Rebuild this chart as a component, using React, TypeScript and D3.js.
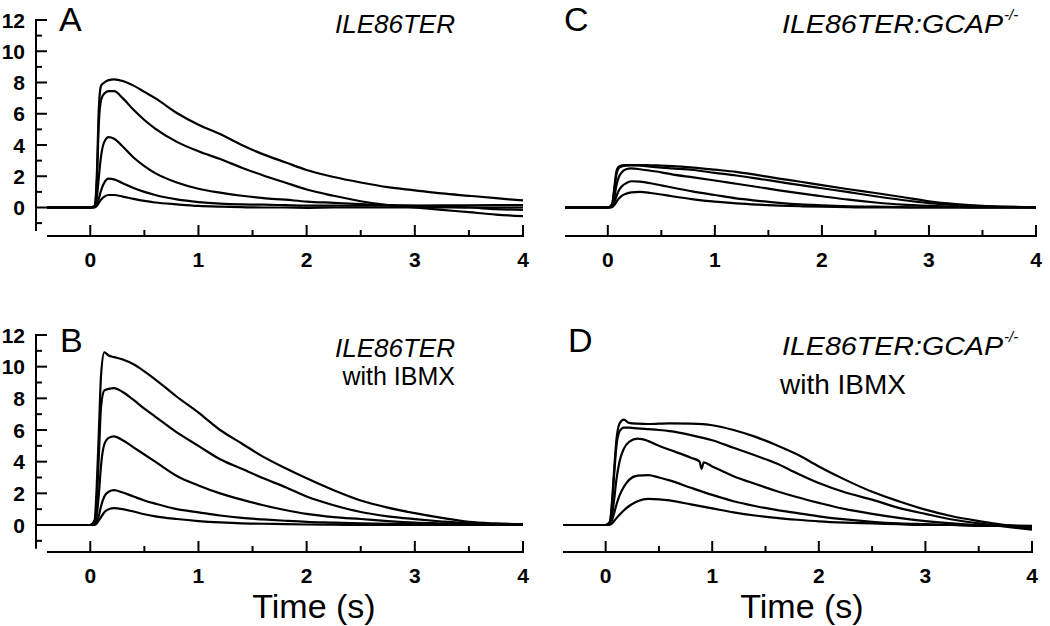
import React from "react";
import * as d3 from "d3";

// ---- data ----
const TIME = [-0.4, 0, 0.04, 0.06, 0.08, 0.1, 0.13, 0.17, 0.22, 0.3, 0.4, 0.5, 0.6, 0.8, 1.0, 1.2, 1.4, 1.6, 1.8, 2.0, 2.25, 2.5, 2.75, 3.0, 3.25, 3.5, 3.75, 4.0];

const A1 = [0, 0, 0.1, 2.0, 6.5, 7.8, 8.0, 8.15, 8.2, 8.1, 7.8, 7.4, 7.0, 6.05, 5.3, 4.7, 4.0, 3.4, 2.9, 2.4, 1.95, 1.6, 1.3, 1.1, 0.9, 0.75, 0.6, 0.45];
const A2 = [0, 0, 0.1, 1.5, 5.5, 6.9, 7.3, 7.45, 7.45, 7.0, 6.25, 5.6, 5.05, 4.2, 3.6, 3.1, 2.55, 2.05, 1.6, 1.15, 0.75, 0.4, 0.15, 0.0, -0.15, -0.3, -0.45, -0.55];
const A3 = [0, 0, 0.05, 0.6, 2.0, 3.3, 4.2, 4.5, 4.4, 3.9, 3.2, 2.65, 2.2, 1.6, 1.2, 0.95, 0.75, 0.6, 0.5, 0.38, 0.3, 0.22, 0.15, 0.1, 0.05, 0, -0.1, -0.15];
const A4 = [0, 0, 0.02, 0.2, 0.6, 1.1, 1.6, 1.85, 1.8, 1.55, 1.25, 1.0, 0.8, 0.52, 0.35, 0.25, 0.2, 0.18, 0.15, 0.12, 0.12, 0.12, 0.12, 0.12, 0.13, 0.14, 0.15, 0.15];
const A5 = [0, 0, 0.01, 0.1, 0.3, 0.5, 0.7, 0.8, 0.8, 0.7, 0.55, 0.42, 0.32, 0.2, 0.1, 0.05, 0.02, 0, 0, -0.02, 0, 0, 0, 0, 0, 0, 0, 0];

const B1 = [0, 0, 0.3, 2.5, 6.0, 9.5, 10.9, 10.7, 10.6, 10.45, 10.15, 9.7, 9.2, 8.1, 7.1, 6.0, 5.15, 4.3, 3.6, 2.95, 2.2, 1.55, 1.1, 0.75, 0.45, 0.2, 0.1, 0.05];
const B2 = [0, 0, 0.2, 1.5, 4.5, 7.5, 8.5, 8.6, 8.65, 8.4, 7.9, 7.35, 6.85, 5.85, 5.0, 4.15, 3.55, 2.95, 2.4, 1.8, 1.25, 0.82, 0.55, 0.37, 0.22, 0.1, 0.05, 0];
const B3 = [0, 0, 0.1, 0.6, 2.0, 3.8, 5.1, 5.5, 5.6, 5.35, 4.9, 4.45, 4.0, 3.1, 2.5, 2.0, 1.6, 1.25, 0.95, 0.7, 0.5, 0.38, 0.25, 0.15, 0.1, 0.05, 0, 0];
const B4 = [0, 0, 0.03, 0.2, 0.6, 1.2, 1.8, 2.1, 2.2, 2.05, 1.8, 1.55, 1.35, 1.0, 0.8, 0.6, 0.45, 0.35, 0.27, 0.2, 0.15, 0.1, 0.07, 0.05, 0.03, 0.02, 0, 0];
const B5 = [0, 0, 0.01, 0.1, 0.3, 0.5, 0.8, 1.0, 1.06, 1.0, 0.85, 0.68, 0.55, 0.38, 0.25, 0.16, 0.1, 0.08, 0.05, 0.03, 0.02, 0, 0, 0, 0, 0, 0, 0];

const C1 = [0, 0, 0.2, 1.2, 2.3, 2.6, 2.7, 2.72, 2.72, 2.72, 2.7, 2.68, 2.65, 2.55, 2.42, 2.28, 2.07, 1.85, 1.65, 1.43, 1.17, 0.93, 0.67, 0.4, 0.22, 0.1, 0.05, 0];
const C2 = [0, 0, 0.2, 1.1, 2.1, 2.5, 2.62, 2.68, 2.7, 2.68, 2.62, 2.55, 2.5, 2.4, 2.22, 2.05, 1.85, 1.64, 1.43, 1.23, 0.98, 0.72, 0.48, 0.28, 0.15, 0.08, 0.03, 0];
const C3 = [0, 0, 0.1, 0.6, 1.4, 1.9, 2.25, 2.45, 2.5, 2.45, 2.35, 2.25, 2.12, 1.93, 1.73, 1.52, 1.31, 1.1, 0.9, 0.72, 0.5, 0.32, 0.18, 0.1, 0.05, 0, 0, 0];
const C4 = [0, 0, 0.05, 0.3, 0.7, 1.05, 1.35, 1.55, 1.68, 1.65, 1.55, 1.42, 1.28, 1.02, 0.8, 0.58, 0.43, 0.3, 0.2, 0.14, 0.08, 0.05, 0.02, 0, 0, 0, 0, 0];
const C5 = [0, 0, 0.02, 0.15, 0.35, 0.55, 0.75, 0.88, 0.97, 1.0, 0.93, 0.83, 0.72, 0.52, 0.37, 0.26, 0.18, 0.12, 0.08, 0.05, 0.02, 0, 0, 0, 0, 0, 0, 0];

const D1 = [0, 0, 0.2, 1.5, 3.5, 5.3, 6.4, 6.65, 6.45, 6.4, 6.38, 6.4, 6.42, 6.4, 6.3, 6.0, 5.58, 5.05, 4.45, 3.7, 2.85, 2.1, 1.5, 0.97, 0.55, 0.25, 0.0, -0.2];
const D2 = [0, 0, 0.2, 1.3, 3.2, 4.9, 5.9, 6.15, 6.15, 6.1, 6.05, 6.0, 5.93, 5.68, 5.35, 4.88, 4.4, 3.9, 3.25, 2.65, 2.05, 1.6, 1.08, 0.7, 0.35, 0.1, -0.1, -0.3];
const D3 = [0, 0, 0.1, 0.6, 1.6, 2.8, 4.0, 4.8, 5.25, 5.45, 5.3, 5.0, 4.75, 4.25, 3.7, 3.08, 2.6, 2.15, 1.75, 1.4, 1.0, 0.7, 0.45, 0.25, 0.1, 0, -0.05, -0.1];
const D4 = [0, 0, 0.05, 0.3, 0.75, 1.25, 1.85, 2.4, 2.85, 3.12, 3.15, 3.0, 2.82, 2.35, 1.9, 1.5, 1.2, 0.95, 0.75, 0.55, 0.35, 0.2, 0.1, 0.05, 0, -0.05, -0.05, -0.1];
const D5 = [0, 0, 0.02, 0.1, 0.25, 0.42, 0.65, 0.92, 1.2, 1.5, 1.65, 1.62, 1.55, 1.3, 1.05, 0.8, 0.6, 0.45, 0.33, 0.23, 0.15, 0.1, 0.05, 0, 0, 0, -0.02, -0.05];
// small artefact (downward glitch) on trace D3
const D3_GLITCH_T = [0.88, 0.9, 0.92];
const D3_GLITCH_V = [4.02, 3.55, 3.95];

const X_TICKS = [0, 1, 2, 3, 4];
const X_MINOR = [0.5, 1.5, 2.5, 3.5];
const Y_TICKS = [0, 2, 4, 6, 8, 10, 12];
const Y_MINOR = [-1, 1, 3, 5, 7, 9, 11];

const FONT = "'Liberation Sans', Arial, Helvetica, sans-serif";

type Series = [number, number][];
const zipSeries = (t: number[], v: number[]): Series => t.map((x, i) => [x, v[i]] as [number, number]);
const withExtra = (base: Series, t: number[], v: number[]): Series =>
  [...base, ...zipSeries(t, v)].sort((a, b) => a[0] - b[0]);

interface PanelProps {
  x0: number; x1: number; yZero: number; yTop: number; axisY: number;
  yAxisX?: number; traces: Series[];
}

function Panel({ x0, x1, yZero, yTop, axisY, yAxisX, traces }: PanelProps) {
  const x = d3.scaleLinear().domain([-0.4, 4]).range([x0, x1]);
  const y = d3.scaleLinear().domain([0, 12]).range([yZero, yTop]);
  const line = d3.line<[number, number]>().x(d => x(d[0])).y(d => y(d[1])).curve(d3.curveMonotoneX);
  return (
    <g>
      {traces.map((s, i) => (
        <path key={i} d={line(s) || ""} fill="none" stroke="#000" strokeWidth={2.2} strokeLinejoin="round" />
      ))}
      {/* x axis */}
      <line x1={x(-0.4)} x2={x(4) + 1} y1={axisY} y2={axisY} stroke="#000" strokeWidth={2} />
      {X_TICKS.map(t => (
        <g key={"xt" + t}>
          <line x1={x(t)} x2={x(t)} y1={axisY} y2={axisY - 11} stroke="#000" strokeWidth={2} />
          <text x={x(t)} y={axisY + 31} textAnchor="middle" fontFamily={FONT} fontWeight="bold" fontSize={21}>{t}</text>
        </g>
      ))}
      {X_MINOR.map(t => (
        <line key={"xm" + t} x1={x(t)} x2={x(t)} y1={axisY} y2={axisY - 6} stroke="#000" strokeWidth={2} />
      ))}
      {/* y axis */}
      {yAxisX !== undefined && (
        <g>
          <line x1={yAxisX} x2={yAxisX} y1={y(12) - 1} y2={y(-1.5)} stroke="#000" strokeWidth={2} />
          {Y_TICKS.map(v => (
            <g key={"yt" + v}>
              <line x1={yAxisX} x2={yAxisX + 11} y1={y(v)} y2={y(v)} stroke="#000" strokeWidth={2} />
              <text x={yAxisX - 11} y={y(v) + 7.5} textAnchor="end" fontFamily={FONT} fontWeight="bold" fontSize={21}>{v}</text>
            </g>
          ))}
          {Y_MINOR.map(v => (
            <line key={"ym" + v} x1={yAxisX} x2={yAxisX + 6} y1={y(v)} y2={y(v)} stroke="#000" strokeWidth={2} />
          ))}
        </g>
      )}
    </g>
  );
}

export default function App() {
  const sA = [A1, A2, A3, A4, A5].map(v => zipSeries(TIME, v));
  const sB = [B1, B2, B3, B4, B5].map(v => zipSeries(TIME, v));
  const sC = [C1, C2, C3, C4, C5].map(v => zipSeries(TIME, v));
  const sD = [D1, D2, D3, D4, D5].map(v => zipSeries(TIME, v));
  sD[2] = withExtra(sD[2], D3_GLITCH_T, D3_GLITCH_V);

  return (
    <svg width={1050} height={626} style={{ position: "absolute", left: 0, top: 0, background: "#fff" }}>
      <rect width={1050} height={626} fill="#fff" />
      <Panel x0={47} x1={523} yZero={207.5} yTop={20} axisY={236} yAxisX={36} traces={sA} />
      <Panel x0={47} x1={523} yZero={525} yTop={335} axisY={552} yAxisX={36} traces={sB} />
      <Panel x0={565} x1={1036} yZero={207.5} yTop={20} axisY={236} traces={sC} />
      <Panel x0={563} x1={1032} yZero={525} yTop={335} axisY={552} traces={sD} />

      {/* panel letters */}
      <text x={59} y={31} fontFamily={FONT} fontSize={34}>A</text>
      <text x={60} y={352} fontFamily={FONT} fontSize={34}>B</text>
      <text x={564} y={31} fontFamily={FONT} fontSize={34}>C</text>
      <text x={568} y={352} fontFamily={FONT} fontSize={34}>D</text>

      {/* condition labels */}
      <text x={455} y={33} textAnchor="end" fontFamily={FONT} fontSize={26} fontStyle="italic">ILE86TER</text>
      <text x={782} y={33} fontFamily={FONT} fontSize={26} fontStyle="italic" textLength={221} lengthAdjust="spacingAndGlyphs">ILE86TER:GCAP</text>
      <text x={1004} y={20} fontFamily={FONT} fontSize={15} fontStyle="italic">-/-</text>
      <text x={455} y={357} textAnchor="end" fontFamily={FONT} fontSize={26} fontStyle="italic">ILE86TER</text>
      <text x={455} y={385} textAnchor="end" fontFamily={FONT} fontSize={25}>with IBMX</text>
      <text x={782} y={355} fontFamily={FONT} fontSize={26} fontStyle="italic" textLength={221} lengthAdjust="spacingAndGlyphs">ILE86TER:GCAP</text>
      <text x={1004} y={342} fontFamily={FONT} fontSize={15} fontStyle="italic">-/-</text>
      <text x={780} y={394} fontFamily={FONT} fontSize={28}>with IBMX</text>

      {/* x axis titles */}
      <text x={314} y={618} textAnchor="middle" fontFamily={FONT} fontSize={34}>Time (s)</text>
      <text x={802} y={618} textAnchor="middle" fontFamily={FONT} fontSize={34}>Time (s)</text>
    </svg>
  );
}
